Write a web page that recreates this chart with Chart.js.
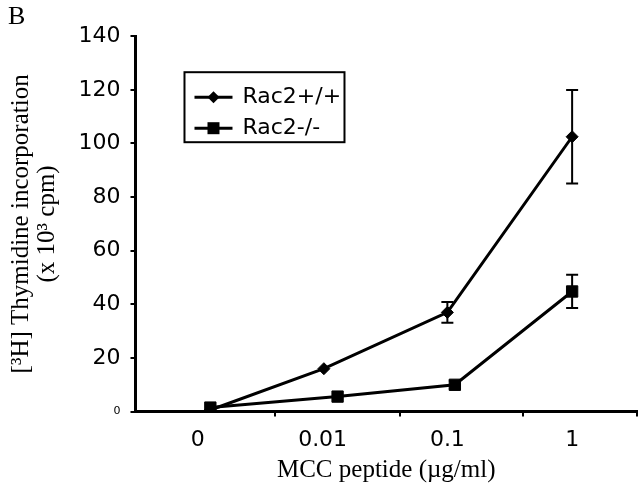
<!DOCTYPE html>
<html>
<head>
<meta charset="utf-8">
<title>Thymidine incorporation</title>
<script src="https://cdn.jsdelivr.net/npm/chart.js@4.4.1/dist/chart.umd.min.js"></script>
<style>
  html, body { margin: 0; padding: 0; background: #fff; }
  #wrap { width: 640px; height: 490px; }
</style>
</head>
<body>
<div id="wrap"><canvas id="chart-thy"></canvas></div>
<script>
/* [3H] thymidine incorporation vs MCC peptide dose, Rac2+/+ vs Rac2-/- */

var DOSE_LABELS = ['0', '0.01', '0.1', '1'];
var DOSE_POS    = [0, 1, 2, 3];
var TICK_MARKS  = [0.62, 1.62, 2.61, 3.52];

// Rac2+/+
var WT_X   = [0.10, 1.01, 2.00, 3.00];
var WT_Y   = [0.6, 16, 37, 102.5];
var WT_ERR = [0, 0, 3.9, 17.4];

// Rac2-/-
var KO_X   = [0.10, 1.12, 2.06, 3.00];
var KO_Y   = [1.5, 5.6, 10, 44.8];
var KO_ERR = [0, 0, 1.5, 6.2];

var SANS  = 'DejaVu Sans';
var SERIF = 'Liberation Serif';

function points(xs, ys) {
  return xs.map(function(x, i) { return { x: x, y: ys[i] }; });
}

// vertical error bars with caps, drawn from the y scale
var errorBars = {
  id: 'errorBars',
  afterDatasetsDraw: function(chart) {
    var ctx = chart.ctx, ys = chart.scales.y;
    ctx.save();
    ctx.strokeStyle = '#000';
    ctx.lineWidth = 2;
    chart.data.datasets.forEach(function(ds, d) {
      var meta = chart.getDatasetMeta(d);
      meta.data.forEach(function(pt, i) {
        var e = ds.errors[i];
        if (!e) return;
        var v = ds.data[i].y;
        var top = ys.getPixelForValue(v + e), bot = ys.getPixelForValue(v - e);
        ctx.beginPath();
        ctx.moveTo(pt.x, top); ctx.lineTo(pt.x, bot);
        ctx.moveTo(pt.x - 6, top); ctx.lineTo(pt.x + 6, top);
        ctx.moveTo(pt.x - 6, bot); ctx.lineTo(pt.x + 6, bot);
        ctx.stroke();
      });
    });
    ctx.restore();
  }
};

// boxed legend inside the plot area
var boxLegend = {
  id: 'boxLegend',
  afterDraw: function(chart) {
    var ctx = chart.ctx, a = chart.chartArea;
    var bx = a.left + 49, by = a.top + 36, bw = 160, bh = 70;
    ctx.save();
    ctx.strokeStyle = '#000';
    ctx.fillStyle = '#000';
    ctx.lineWidth = 2;
    ctx.strokeRect(bx, by, bw, bh);
    chart.data.datasets.forEach(function(ds, d) {
      var ry = by + 25 + d * 31, mx = bx + 29;
      ctx.lineWidth = 3;
      ctx.beginPath();
      ctx.moveTo(bx + 10, ry); ctx.lineTo(bx + 48, ry);
      ctx.stroke();
      ctx.beginPath();
      if (ds.pointStyle === 'rectRot') {
        ctx.moveTo(mx, ry - 6); ctx.lineTo(mx + 6, ry);
        ctx.lineTo(mx, ry + 6); ctx.lineTo(mx - 6, ry);
        ctx.closePath();
      } else {
        ctx.rect(mx - 6, ry - 6, 12, 12);
      }
      ctx.fill();
      ctx.font = '22px "' + SANS + '"';
      ctx.textBaseline = 'middle';
      ctx.textAlign = 'left';
      ctx.fillText(ds.label, bx + 58, ry);
    });
    ctx.restore();
  }
};

var chartThy = new Chart(document.getElementById('chart-thy'), {
  type: 'line',
  data: {
    datasets: [
      { label: 'Rac2+/+', data: points(WT_X, WT_Y), errors: WT_ERR,
        borderColor: '#000', backgroundColor: '#000', borderWidth: 3,
        pointStyle: 'rectRot', pointRadius: 6, pointBorderWidth: 1, tension: 0 },
      { label: 'Rac2-/-', data: points(KO_X, KO_Y), errors: KO_ERR,
        borderColor: '#000', backgroundColor: '#000', borderWidth: 3,
        pointStyle: 'rect', pointRadius: 8, pointBorderWidth: 1, tension: 0 }
    ]
  },
  options: {
    responsive: true,
    maintainAspectRatio: false,
    animation: false,
    layout: { autoPadding: false, padding: { left: 8, right: 3, top: 0, bottom: 0 } },
    plugins: {
      legend: { display: false },
      tooltip: { enabled: false },
      title: {
        display: true, text: 'B', align: 'start', color: '#000',
        font: { family: SERIF, size: 26, weight: 'normal', lineHeight: 1.2 },
        padding: { top: 2, bottom: 3 }
      }
    },
    scales: {
      x: {
        type: 'linear', position: 'bottom', min: -0.5, max: 3.52, weight: 0,
        afterBuildTicks: function(s) { s.ticks = TICK_MARKS.map(function(v) { return { value: v }; }); },
        grid: { drawOnChartArea: false, drawTicks: true, tickLength: 5, color: '#000', lineWidth: 2 },
        border: { display: true, color: '#000', width: 3 },
        ticks: { display: false }
      },
      xl: {
        type: 'linear', position: 'bottom', min: -0.5, max: 3.52, weight: 1,
        afterBuildTicks: function(s) { s.ticks = DOSE_POS.map(function(v) { return { value: v }; }); },
        grid: { display: false, drawTicks: false },
        border: { display: false },
        ticks: {
          padding: 10, color: '#000', autoSkip: false, maxRotation: 0,
          font: { family: SANS, size: 22 },
          callback: function(v) { return DOSE_LABELS[DOSE_POS.indexOf(v)]; }
        },
        title: {
          display: true, text: 'MCC peptide (µg/ml)', color: '#000',
          font: { family: SERIF, size: 25, lineHeight: 1.2 },
          padding: { top: -8, bottom: 5 }
        }
      },
      y: {
        type: 'linear', min: 0, max: 140,
        grid: { drawOnChartArea: false, drawTicks: true, tickLength: 5, color: '#000', lineWidth: 2 },
        border: { display: true, color: '#000', width: 3 },
        ticks: {
          stepSize: 20, padding: 10, color: '#000',
          font: function(c) {
            return (c.tick && c.tick.value === 0) ? { family: SANS, size: 11 } : { family: SANS, size: 22 };
          }
        },
        title: {
          display: true, color: '#000',
          text: ['[³H] Thymidine incorporation', '(x 10³ cpm)'],
          font: { family: SERIF, size: 25, lineHeight: 1.05 },
          padding: { top: 0, bottom: 8 }
        }
      }
    }
  },
  plugins: [errorBars, boxLegend]
});
</script>
</body>
</html>
